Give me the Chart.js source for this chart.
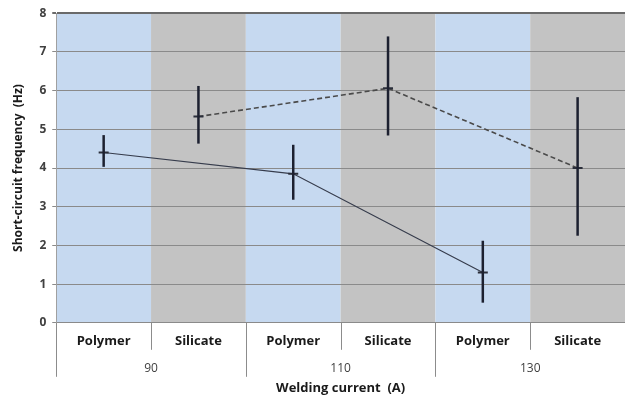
<!DOCTYPE html>
<html>
<head>
<meta charset="utf-8">
<script src="https://cdn.jsdelivr.net/npm/chart.js@4/dist/chart.umd.min.js"></script>
<style>
  html, body { margin: 0; padding: 0; background: #fff; }
  #wrap { width: 632px; height: 400px; }
</style>
</head>
<body>
<div id="wrap"><canvas id="myChart"></canvas></div>
<script>
'use strict';

// categories along the x axis, grouped by welding current
var categories = ['Polymer', 'Silicate', 'Polymer', 'Silicate', 'Polymer', 'Silicate'];
var currents = ['90', '110', '130'];

// short-circuit frequency (Hz), mean and error bar ends
var polymerMean = [4.4, 3.85, 1.3];
var polymerLow = [4.03, 3.18, 0.52];
var polymerHigh = [4.85, 4.6, 2.12];
var silicateMean = [5.33, 6.06, 4.0];
var silicateLow = [4.63, 4.84, 2.25];
var silicateHigh = [6.12, 7.4, 5.83];

var yTicks = [0, 1, 2, 3, 4, 5, 6, 7, 8];

var bandColors = ['#c6d9f0', '#c3c3c3'];

function spread(values, start) {
    var out = categories.map(function () { return null; });
    values.forEach(function (v, i) { out[start + i * 2] = v; });
    return out;
}

var bandsPlugin = {
    id: 'bands',
    beforeDraw: function (chart) {
        var c = chart.ctx, a = chart.chartArea;
        var w = (a.right - a.left) / categories.length;
        c.save();
        categories.forEach(function (cat, i) {
            c.fillStyle = bandColors[i % 2];
            c.fillRect(a.left + i * w, a.top, w, a.bottom - a.top);
        });
        c.restore();
    }
};

var errorPlugin = {
    id: 'errorBars',
    afterDatasetsDraw: function (chart) {
        var c = chart.ctx, y = chart.scales.y;
        var sets = [[polymerLow, polymerHigh, 0], [silicateLow, silicateHigh, 1]];
        c.save();
        c.strokeStyle = '#1c2030';
        c.lineWidth = 2.5;
        sets.forEach(function (s) {
            var meta = chart.getDatasetMeta(s[2]);
            s[0].forEach(function (lo, i) {
                var pt = meta.data[s[2] + i * 2];
                c.beginPath();
                c.moveTo(pt.x, y.getPixelForValue(lo));
                c.lineTo(pt.x, y.getPixelForValue(s[1][i]));
                c.stroke();
            });
        });
        c.restore();
    }
};

var groupPlugin = {
    id: 'groups',
    afterDraw: function (chart) {
        var c = chart.ctx, a = chart.chartArea;
        var w = (a.right - a.left) / categories.length;
        c.save();
        c.strokeStyle = '#8c8c8c';
        c.lineWidth = 1;
        for (var i = 0; i < categories.length; i++) {
            var px = Math.round(a.left + i * w) + 0.5;
            var len = (i % 2 === 0) ? 54 : 27;
            c.beginPath();
            c.moveTo(px, a.bottom);
            c.lineTo(px, a.bottom + len);
            c.stroke();
        }
        c.fillStyle = '#404040';
        c.font = '12px "Open Sans"';
        c.textAlign = 'center';
        c.textBaseline = 'middle';
        currents.forEach(function (t, g) {
            c.fillText(t, a.left + (g * 2 + 1) * w, a.bottom + 46);
        });
        c.restore();
    }
};

var ctx = document.getElementById('myChart').getContext('2d');
var chart = new Chart(ctx, {
    type: 'line',
    data: {
        labels: categories,
        datasets: [{
            label: 'Polymer',
            data: spread(polymerMean, 0),
            spanGaps: true,
            borderColor: '#363c4c',
            borderWidth: 1.2,
            pointStyle: 'line',
            pointRadius: 5,
            pointBorderWidth: 2,
            pointBorderColor: '#2a2e3a',
            pointBackgroundColor: '#2a2e3a'
        }, {
            label: 'Silicate',
            data: spread(silicateMean, 1),
            spanGaps: true,
            borderColor: '#4a4a4a',
            borderWidth: 1.6,
            borderDash: [5, 3],
            pointStyle: 'line',
            pointRadius: 5,
            pointBorderWidth: 2,
            pointBorderColor: '#2a2e3a',
            pointBackgroundColor: '#2a2e3a'
        }]
    },
    options: {
        responsive: true,
        maintainAspectRatio: false,
        animation: false,
        layout: { padding: { top: 11, right: 0, left: 11, bottom: 4 } },
        plugins: {
            legend: { display: false },
            tooltip: { enabled: false }
        },
        scales: {
            x: {
                offset: true,
                grid: { display: false },
                border: { display: false },
                ticks: {
                    color: '#1a1a1a',
                    font: { family: '"Open Sans"', size: 13, weight: 'bold' },
                    padding: 3,
                    maxRotation: 0
                },
                title: {
                    display: true,
                    text: 'Welding current  (A)',
                    color: '#1a1a1a',
                    font: { family: '"Open Sans"', size: 13, weight: 'bold' },
                    padding: { top: 28, bottom: 0 }
                }
            },
            y: {
                min: 0,
                max: 8,
                afterBuildTicks: function (axis) {
                    axis.ticks = yTicks.map(function (v) { return { value: v }; });
                },
                grid: {
                    color: function (c) { return c.tick.value === 8 ? '#6a6a6a' : '#8a8a8a'; },
                    lineWidth: function (c) { return c.tick.value === 8 ? 2 : 1; },
                    tickLength: 4
                },
                border: { color: '#a0a0a0' },
                ticks: {
                    color: '#404040',
                    font: { family: '"Open Sans"', size: 12, weight: 'bold' },
                    padding: 6
                },
                title: {
                    display: true,
                    text: 'Short-circuit frequency  (Hz)',
                    color: '#1a1a1a',
                    font: { family: '"Open Sans"', size: 12, weight: 'bold' },
                    padding: { top: 0, bottom: 8 }
                }
            }
        }
    },
    plugins: [bandsPlugin, errorPlugin, groupPlugin]
});
</script>
</body>
</html>
